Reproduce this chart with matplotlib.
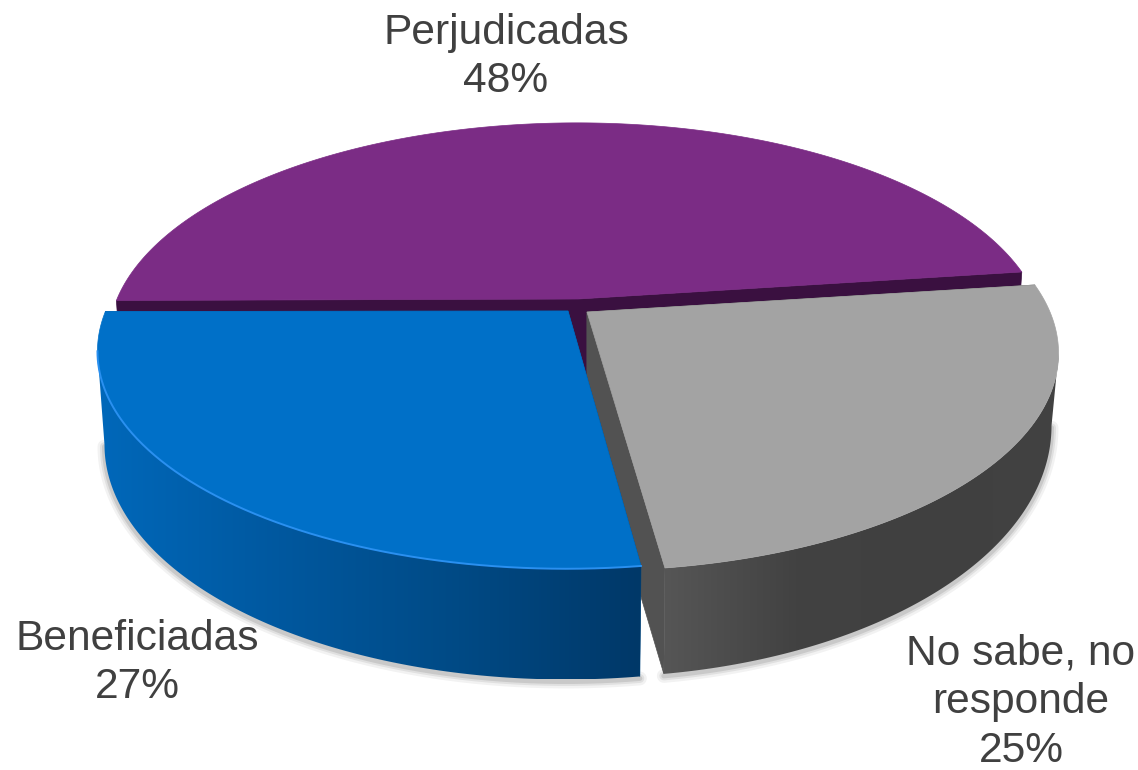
import numpy as np
import matplotlib
matplotlib.use("Agg")
import matplotlib.pyplot as plt
from matplotlib.patches import Polygon
from matplotlib.colors import LinearSegmentedColormap

categories = ["Perjudicadas", "Beneficiadas", "No sabe, no\nresponde"]
shares = [48, 27, 25]
start_angle = 7.6

top_colors = ["#7B2C85", "#0070C8", "#A3A3A3"]
cut_colors = ["#3A1040", "#00467F", "#525252"]
wall_stops = [["#3A1040", "#3A1040"],
              ["#0068BA", "#00589F", "#004A85", "#003868"],
              ["#565656", "#424242", "#404040", "#424242"]]
rim_colors = [None, "#2A90F0", None]
centers = [(577, 299), (566, 310), (590, 312)]   # disc centre of each slice
apex = [(578, 299), (568, 311), (587, 312)]      # inner corner of each slice
label_pos = [(506, 57), (137, 663), (1021, 702)]

A, B, K = 460, 209.6, 0.19      # disc radii and perspective strength
SX = 0.985                      # lower-disc horizontal scale
SY = [1.0, 1.08, 1.156]         # lower-disc vertical scale per slice
DEPTH = [100, 90, 66]           # vertical drop of the lower disc per slice
SIL = np.degrees(np.arcsin(K))  # angle of the widest point of the disc

fig = plt.figure(figsize=(11.38, 7.7), dpi=100)
ax = fig.add_axes([0, 0, 1, 1])
ax.set_xlim(0, 1138)
ax.set_ylim(770, 0)
ax.axis("off")


def top_point(ang, c):
    t = np.radians(ang)
    u, v = np.cos(t), np.sin(t)
    d = 1 + K * v
    return c[0] + A * u / d, c[1] - B * v / d


def low_point(x, y, c, i):
    return c[0] + SX * (x - c[0]), c[1] + SY[i] * (y - c[1]) + DEPTH[i]


angles = np.cumsum([0] + shares) * 3.6 + start_angle
layers = [0, 2, 1]  # back slice first, blue over grey
for z, i in enumerate(layers):
    c = centers[i]
    p = apex[i]
    th = np.linspace(angles[i], angles[i + 1], 240)
    tx, ty = top_point(th, c)
    ax_z = 2 + z * 5

    # part of the rim that is a visible outer wall
    wt = np.linspace(max(angles[i], 180 + SIL), min(angles[i + 1], 360 - SIL), 240)
    wx, wy = top_point(wt, c)
    lx, ly = low_point(wx, wy, c, i)

    # soft shadow along the lower edge
    if i != 0:
        for w, al in [(14, .05), (9, .07), (5, .10)]:
            ax.plot(lx, ly + 2, color="#000000", lw=w * .72, alpha=al,
                    zorder=ax_z - .5, solid_capstyle="round")

    # cut faces
    lc = (p[0], p[1] + 103)
    for (ex, ey) in [(tx[0], ty[0]), (tx[-1], ty[-1])]:
        lex, ley = low_point(ex, ey, c, i)
        ax.add_patch(Polygon([p, (ex, ey), (lex, ley), lc], closed=True,
                             fc=cut_colors[i], ec=cut_colors[i], lw=.5, zorder=ax_z))

    # curved wall with horizontal gradient
    if i != 0:
        wall = Polygon(np.c_[np.r_[wx, lx[::-1]], np.r_[wy, ly[::-1]]], closed=True,
                       fc="none", ec="none", zorder=ax_z + 1)
        ax.add_patch(wall)
        cmap = LinearSegmentedColormap.from_list("w", wall_stops[i])
        g = np.linspace(0, 1, 256)[None, :]
        x0, x1 = min(wx.min(), lx.min()), max(wx.max(), lx.max())
        im = ax.imshow(g, extent=[x0, x1, ly.max(), min(wy.min(), ly.min())],
                       cmap=cmap, aspect="auto", zorder=ax_z + 1)
        im.set_clip_path(wall)

    # top face
    ax.add_patch(Polygon(np.c_[np.r_[p[0], tx], np.r_[p[1], ty]], closed=True,
                         fc=top_colors[i], ec=top_colors[i], lw=.5, zorder=ax_z + 2))
    if rim_colors[i]:
        ax.plot(wx, wy, color=rim_colors[i], lw=1.4, zorder=ax_z + 3)

ax.set_xlim(0, 1138)
ax.set_ylim(770, 0)

for name, val, (x, y) in zip(categories, shares, label_pos):
    ax.text(x, y, f"{name}\n{val}%", ha="center", va="center", color="#404040",
            fontsize=30.6, family="Liberation Sans", linespacing=1.28, zorder=30)

fig.savefig("out.png", dpi=100)
